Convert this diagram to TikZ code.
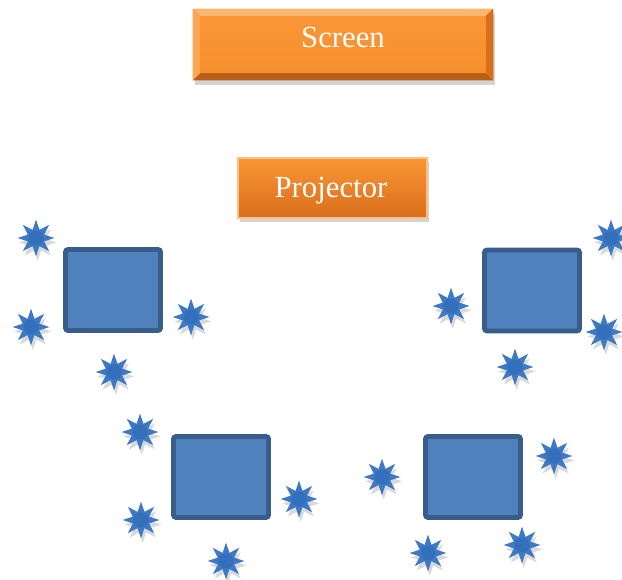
\documentclass[tikz,border=0pt]{standalone}
\usepackage{fontspec}
\setmainfont{Liberation Serif}
\usetikzlibrary{shapes.geometric,shadows,positioning,calc}

\definecolor{deskfill}{HTML}{4F81BD}
\definecolor{deskline}{HTML}{385D8A}
\definecolor{seatblue}{HTML}{3D79C4}
\definecolor{seatcore}{HTML}{336FBA}
\definecolor{orangetop}{HTML}{FA9636}
\definecolor{orangebot}{HTML}{D96E1B}
\definecolor{orangeface}{HTML}{F6902F}

\tikzset{
  desk/.style={draw=deskline,fill=deskfill,line width=2.8pt,rounded corners=1.5pt,
    minimum width=1.9cm,minimum height=1.62cm,inner sep=0pt},
  seat/.style={star,star points=8,star point ratio=2.1,fill=seatblue,inner sep=0pt,
    minimum size=0.74cm,drop shadow={opacity=0.3,shadow xshift=1pt,shadow yshift=-2.5pt}},
  sign/.style={text=white,font=\fontsize{17.5}{20}\selectfont,anchor=base},
}

\begin{document}
\begin{tikzpicture}[x=0.02cm,y=-0.02cm]
\useasboundingbox (0,0) rectangle (622,580);

% screen with bevelled edges
\node[minimum width=6cm,minimum height=1.42cm,inner sep=0pt,fill=orangeface,
  drop shadow={opacity=0.35,shadow xshift=1pt,shadow yshift=-3pt}] (screen) at (343,44.5) {};
\fill[orangetop!70!white] (screen.north west) -- (screen.north east) -- ++(-8,8) -- ($(screen.north west)+(8,8)$) -- cycle;
\fill[orangebot!85!black] (screen.south west) -- (screen.south east) -- ++(-8,-8) -- ($(screen.south west)+(8,-8)$) -- cycle;
\fill[orangetop!85!white] (screen.north west) -- (screen.south west) -- ++(8,-8) -- ($(screen.north west)+(8,8)$) -- cycle;
\fill[orangebot] (screen.north east) -- (screen.south east) -- ++(-8,-8) -- ($(screen.north east)+(-8,8)$) -- cycle;
\shade[top color=orangetop,bottom color=orangeface] ($(screen.north west)+(8,8)$) rectangle ($(screen.south east)+(-8,-8)$);
\node[sign] (screentext) at (343,48) {Screen};

% projector
\node[minimum width=3.78cm,minimum height=1.2cm,inner sep=0pt,draw=orangetop!60!white,line width=0.6pt,
  top color=orangetop,bottom color=orangebot,
  drop shadow={opacity=0.35,shadow xshift=1pt,shadow yshift=-2.5pt}] (projector) at (332.5,188) {};
\node[sign] (projtext) at (331,198) {Projector};

% desks
\node[desk] (deskA) at (113,290) {};
\node[desk] (deskB) at (532,290.5) {};
\node[desk] (deskC) at (221,477) {};
\node[desk] (deskD) at (473,477) {};

% seats round the desks
\foreach \x/\y [count=\i] in {36/238,31/327,191/317,114/372,
    451/306,611/238,604/332,515/367,
    140/432,141/520,299/499,226/561,
    382/477,554/456,522/545,428/553}{
  \node[seat] (seat\i) at (\x,\y) {};
  \fill[seatcore] (seat\i.center) circle (7.5);
}
\end{tikzpicture}
\end{document}
